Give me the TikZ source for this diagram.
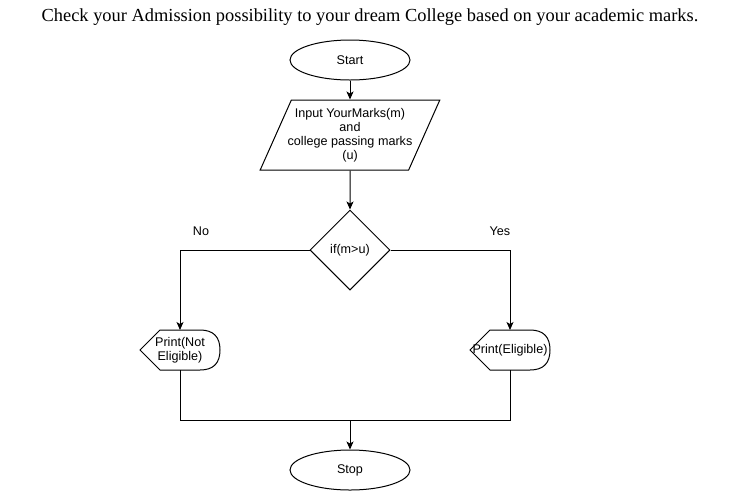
\documentclass[tikz,border=0pt]{standalone}
\usepackage{fontspec}
\setmainfont{Liberation Serif}
\setsansfont{Liberation Sans}
\usetikzlibrary{shapes.geometric,arrows.meta}

\begin{document}
\begin{tikzpicture}[x=1pt, y=-1pt, line width=1pt, >={Stealth[length=8pt,width=7pt,inset=2pt]},
  font=\sffamily\fontsize{12.6}{14}\selectfont,
  term/.style={draw, ellipse, minimum width=120pt, minimum height=40pt, inner sep=0pt},
  io/.style={draw, trapezium, trapezium left angle=60, trapezium right angle=120, trapezium stretches=true, minimum width=180pt, minimum height=70pt, align=center, inner ysep=0pt, inner xsep=-4pt},
  dec/.style={draw, diamond, minimum width=80pt, minimum height=80pt, inner sep=0pt},
  disp/.style={minimum width=80pt, minimum height=40pt, inner sep=0pt, outer sep=0pt, align=center}]
\useasboundingbox (0,0) rectangle (741,491);
\node[font=\rmfamily\fontsize{18.4}{21}\selectfont] (title) at (370,17) {Check your Admission possibility to your dream College based on your academic marks.};
\node[term] (start) at (350,60)  {Start};
\node[io]   (input) at (350,135) {Input YourMarks(m)\\and\\college passing marks\\(u)};
\node[dec]  (cond)  at (350,250) {if(m>u)};
\node[disp] (noout)  at (180,350) {Print(Not\\Eligible)};
\node[disp] (yesout) at (510,350) {Print(Eligible)};
\node[term] (stop)  at (350,470) {Stop};
\node (nolbl)  at (201,231) {No};
\node (yeslbl) at (500,231) {Yes};
\coordinate (join) at (350,420);
% display shapes
\draw (noout.west) -- ([xshift=20pt]noout.north west) -- ([xshift=-20pt]noout.north east)
  .. controls ([xshift=-6.7pt]noout.north east) and ([yshift=-6.7pt]noout.north east) .. (noout.east)
  .. controls ([yshift=6.7pt]noout.south east) and ([xshift=-6.7pt]noout.south east) .. ([xshift=-20pt]noout.south east)
  -- ([xshift=20pt]noout.south west) -- cycle;
\draw (yesout.west) -- ([xshift=20pt]yesout.north west) -- ([xshift=-20pt]yesout.north east)
  .. controls ([xshift=-6.7pt]yesout.north east) and ([yshift=-6.7pt]yesout.north east) .. (yesout.east)
  .. controls ([yshift=6.7pt]yesout.south east) and ([xshift=-6.7pt]yesout.south east) .. ([xshift=-20pt]yesout.south east)
  -- ([xshift=20pt]yesout.south west) -- cycle;
\draw[->] (start) -- (input);
\draw[->] (input) -- (cond);
\draw[->] (cond.west) -| (noout.north);
\draw[->] (cond.east) -| (yesout.north);
\draw (noout.south) |- (join) -| (yesout.south);
\draw[->] (join) -- (stop);
\end{tikzpicture}
\end{document}
